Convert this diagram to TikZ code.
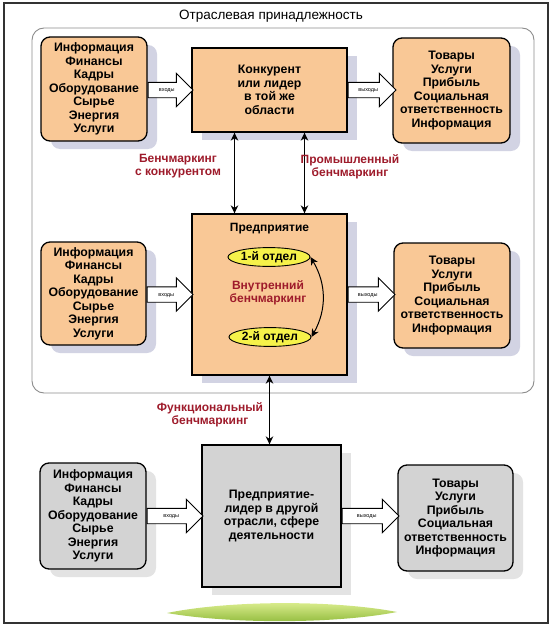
\documentclass[tikz,border=0pt]{standalone}
\usepackage{fontspec}
\setmainfont{Liberation Sans}
\usetikzlibrary{positioning, arrows.meta, shapes, shadows}

\definecolor{peach}{HTML}{F9C896}
\definecolor{greyfill}{HTML}{D3D3D3}
\definecolor{shadeA}{HTML}{D2D3E3}
\definecolor{shadeB}{HTML}{E3E3E3}
\definecolor{benchred}{HTML}{9E1B2B}
\definecolor{lemon}{HTML}{F6F24A}
\definecolor{lensTop}{HTML}{E2F296}
\definecolor{lensMid}{HTML}{BADD55}
\definecolor{lensBot}{HTML}{8DB838}

\newcommand{\inlist}{Информация\\Финансы\\Кадры\\Оборудование\\Сырье\\Энергия\\Услуги}
\newcommand{\outlist}{Товары\\Услуги\\Прибыль\\Социальная\\ответственность\\Информация}

\begin{document}
\begin{tikzpicture}
  [x=1pt, y=-1pt,
   box/.style={draw, line width=1.3pt, align=center, inner sep=0pt,
     font=\fontsize{12.3}{13.5}\selectfont\bfseries},
   sidebox/.style={box, rounded corners=9pt},
   orangebox/.style={fill=peach,
     drop shadow={shadow xshift=10pt, shadow yshift=-8pt, fill=shadeA, opacity=1}},
   greybox/.style={fill=greyfill,
     drop shadow={shadow xshift=10pt, shadow yshift=-8pt, fill=shadeB, opacity=1}},
   bench/.style={text=benchred, align=center, font=\fontsize{12}{13}\selectfont\bfseries},
   blk/.style={single arrow, draw, line width=0.9pt, fill=white, anchor=tail,
     single arrow head extend=9pt, inner xsep=3pt, inner ysep=4.5pt,
     text height=4.5pt, text depth=1pt, font=\fontsize{5.5}{6}\selectfont},
   dept/.style={ellipse, draw, fill=lemon, line width=0.9pt, minimum width=74pt,
     minimum height=16pt, inner sep=1pt, font=\fontsize{12}{13}\selectfont\bfseries},
   >={Stealth[length=8pt, width=7.5pt]}]

  \useasboundingbox (0,0) rectangle (553,626);

  % frames
  \draw[line width=1.5pt, black!80] (4,3) rectangle (548,623);
  \draw[black!45, line width=0.9pt, rounded corners=12pt] (32,28) rectangle (534,393);
  \node[font=\fontsize{13.5}{15}\selectfont] (otrasl) at (271,16) {Отраслевая принадлежность};

  % competitor row
  \node[box, orangebox, minimum width=155pt, minimum height=84pt] (konk) at (269.5,90)
    {Конкурент\\или лидер\\в той же\\области};
  \node[sidebox, orangebox, minimum width=106pt, minimum height=104pt] (inA) at (94,89) {\inlist};
  \node[sidebox, orangebox, minimum width=117pt, minimum height=105pt] (outA) at (451.5,90.5) {\outlist};
  \node[blk, minimum height=45pt] (vhA) at (inA.east |- konk.west) {входы};
  \node[blk, minimum height=48pt] (vyhA) at (konk.east) {выходы};

  % own enterprise row
  \node[box, orangebox, minimum width=155pt, minimum height=161pt] (pred) at (269.5,294.5) {};
  \node[font=\fontsize{12}{13}\selectfont\bfseries, below=6pt of pred.north] (predT) {Предприятие};
  \node[sidebox, orangebox, minimum width=105pt, minimum height=103pt] (inB) at (93.5,293.5) {\inlist};
  \node[sidebox, orangebox, minimum width=116pt, minimum height=105pt] (outB) at (452,295.5) {\outlist};
  \node[blk, minimum height=46pt] (vhB) at (inB.east |- pred.west) {входы};
  \node[blk, minimum height=47pt] (vyhB) at (pred.east) {выходы};

  \node[dept] (otd1) at (269,257) {1-й отдел};
  \node[dept] (otd2) at (270,337) {2-й отдел};
  \node[bench] (vnutr) at (268,293) {Внутренний\\бенчмаркинг};
  \draw[<->, line width=1pt] (otd1.east) to[bend left=30] (otd2.east);

  % leader of another branch
  \node[box, greybox, minimum width=139pt, minimum height=142pt] (lider) at (271.5,516)
    {Предприятие-\\лидер в другой\\отрасли, сфере\\деятельности};
  \node[sidebox, greybox, minimum width=106pt, minimum height=106pt] (inC) at (93,516) {\inlist};
  \node[sidebox, greybox, minimum width=115pt, minimum height=106pt] (outC) at (455.5,518) {\outlist};
  \node[blk, minimum height=56pt] (vhC) at (inC.east |- lider.west) {входы};
  \node[blk, minimum height=57pt] (vyhC) at (lider.east) {выходы};

  % benchmarking links
  \draw[<->, line width=1.3pt] ([xshift=-35pt]konk.south) -- ([xshift=-35pt]pred.north);
  \draw[<->, line width=1.3pt] ([xshift=35pt]konk.south) -- ([xshift=35pt]pred.north);
  \draw[<->, line width=1.3pt] (pred.south) -- (pred.south |- lider.north);
  \node[bench] (lblKonk) at (178,166.5) {Бенчмаркинг\\с конкурентом};
  \node[bench] (lblProm) at (350,166.5) {Промышленный\\бенчмаркинг};
  \node[bench] (lblFunc) at (210,415) {Функциональный\\бенчмаркинг};

  % green lens at the bottom
  \shade[top color=lensTop, middle color=lensMid, bottom color=lensBot]
    (167,613) .. controls (230,600) and (335,600) .. (397,612)
    .. controls (335,624) and (230,624) .. (167,613) -- cycle;
\end{tikzpicture}
\end{document}
